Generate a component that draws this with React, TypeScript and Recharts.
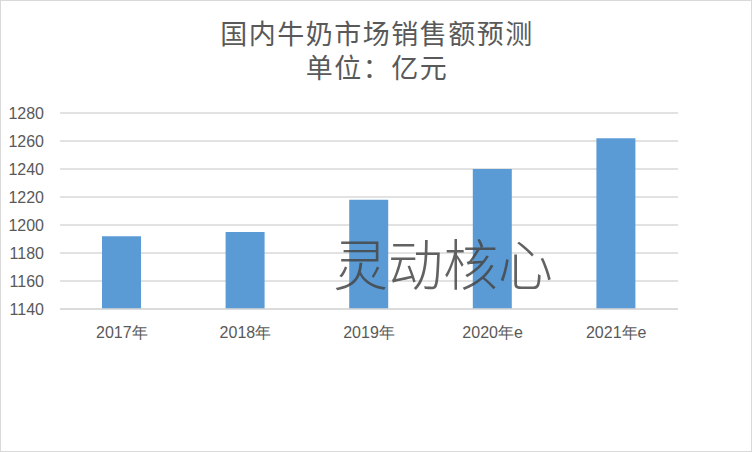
import { BarChart, Bar, XAxis, YAxis, CartesianGrid } from 'recharts';

// 国内牛奶市场销售额预测（亿元）
const categories = ['2017年', '2018年', '2019年', '2020年e', '2021年e'];
const sales = [1192, 1195, 1218, 1240, 1262];
const yTicks = [1140, 1160, 1180, 1200, 1220, 1240, 1260, 1280];

const data = categories.map((name, i) => ({ name, sales: sales[i] }));

const textColor = '#595959';
const cjkFont = '"Noto Sans CJK SC", "Noto Sans", sans-serif';
const numFont = '"Liberation Sans", Arial, sans-serif';

export default function App() {
  return (
    <div
      style={{
        position: 'absolute',
        left: 0,
        top: 0,
        width: 752,
        height: 452,
        boxSizing: 'border-box',
        border: '1px solid #d9d9d9',
        background: '#fff',
        overflow: 'hidden',
      }}
    >
      {/* 标题 */}
      <div
        style={{
          position: 'absolute',
          left: 0,
          top: 15,
          width: 752,
          textAlign: 'center',
          fontFamily: cjkFont,
          fontSize: 27,
          letterSpacing: 1.5,
          lineHeight: '34px',
          color: textColor,
        }}
      >
        <div>国内牛奶市场销售额预测</div>
        <div>单位：亿元</div>
      </div>

      <div style={{ position: 'absolute', left: -1, top: -1 }}>
        <BarChart
          width={752}
          height={452}
          data={data}
          margin={{ top: 113, right: 74, bottom: 113, left: 0 }}
          barSize={39}
        >
          <CartesianGrid vertical={false} stroke="#d9d9d9" strokeWidth={1.3} />
          <XAxis
            dataKey="name"
            height={30}
            tickLine={false}
            axisLine={{ stroke: '#d9d9d9', strokeWidth: 1.3 }}
            tickMargin={12}
            tick={{ fill: textColor, fontSize: 16, fontFamily: numFont }}
          />
          <YAxis
            width={60}
            domain={[1140, 1280]}
            ticks={yTicks}
            interval={0}
            tickLine={false}
            axisLine={false}
            tickMargin={10}
            tick={{ fill: textColor, fontSize: 16, fontFamily: numFont }}
          />
          <Bar dataKey="sales" fill="#5b9bd5" isAnimationActive={false} />
        </BarChart>
      </div>

      {/* 水印 */}
      <div
        style={{
          position: 'absolute',
          left: 330,
          top: 230,
          width: 224,
          textAlign: 'center',
          fontFamily: cjkFont,
          fontWeight: 300,
          fontSize: 55,
          lineHeight: '60px',
          color: 'rgba(70,70,70,0.85)',
          pointerEvents: 'none',
          whiteSpace: 'nowrap',
        }}
      >
        灵动核心
      </div>
    </div>
  );
}
